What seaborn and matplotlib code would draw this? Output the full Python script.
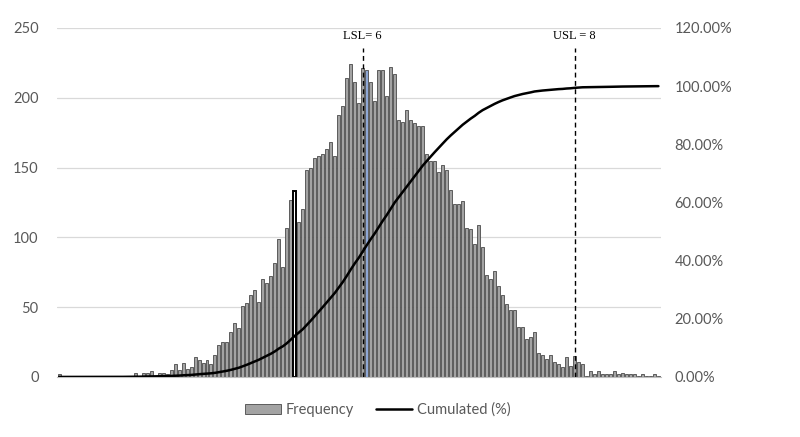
import numpy as np
import pandas as pd
import matplotlib
matplotlib.use("Agg")
import matplotlib.pyplot as plt
from matplotlib.patches import Patch
from matplotlib.lines import Line2D
import seaborn as sns

# frequencies per class (151 classes)
freq = [
    2, 0, 0, 0, 0, 0, 0, 0, 0, 0, 0, 1, 1, 0, 0, 1, 0, 1, 1, 3,
    1, 3, 3, 4, 1, 3, 3, 2, 5, 9, 5, 10, 6, 7, 14, 12, 10, 12, 9, 16,
    23, 25, 25, 32, 39, 35, 51, 53, 59, 62, 54, 70, 67, 72, 82, 99, 79, 107, 127, 133,
    111, 120, 148, 150, 157, 158, 160, 163, 168, 158, 188, 194, 214, 224, 211, 196, 221, 220, 211, 198,
    220, 220, 201, 222, 217, 184, 183, 191, 184, 182, 180, 180, 160, 155, 155, 147, 152, 148, 134, 124,
    124, 126, 107, 106, 95, 109, 93, 73, 70, 76, 65, 59, 52, 48, 48, 36, 36, 27, 29, 32,
    17, 16, 13, 16, 11, 9, 7, 14, 8, 15, 11, 9, 1, 4, 2, 4, 2, 2, 2, 4,
    2, 3, 2, 2, 2, 1, 2, 1, 1, 2, 1,
]
outlined_bin = 59   # bar drawn with black outline
blue_bin = 77       # highlighted bar
lsl_bin = 76
usl_bin = 129
lsl_label = "LSL= 6"
usl_label = "USL = 8"
left_ticks = [0, 50, 100, 150, 200, 250]
right_ticks = [0, 20, 40, 60, 80, 100, 120]

df = pd.DataFrame({"bin": np.arange(len(freq)), "freq": freq})
df["cum"] = df["freq"].cumsum() / df["freq"].sum() * 100

sns.set_style("white")
plt.rcParams["font.family"] = ["Lato", "DejaVu Sans"]
txt_col = "#595959"

fig = plt.figure(figsize=(8, 4.37), dpi=100)
ax = fig.add_axes([0.071, 0.1373, 0.755, 0.7987])

sns.barplot(data=df, x="bin", y="freq", ax=ax, color="#A3A3A3",
            saturation=1, width=0.75, edgecolor="#4A4A4A", linewidth=0.6,
            zorder=2)
for i, p in enumerate(ax.patches):
    if i == outlined_bin:
        p.set_facecolor("white")
        p.set_edgecolor("black")
        p.set_linewidth(1.4)
    elif i == blue_bin:
        p.set_facecolor("#8FA8D6")

ax.set_xlim(-0.6, len(freq) - 0.4)
ax.set_ylim(0, 250)
ax.set_yticks(left_ticks)
ax.set_xticks([])
ax.set_xlabel("")
ax.set_ylabel("")
ax.tick_params(axis="y", length=0, pad=13, labelsize=10.5, labelcolor=txt_col)
ax.grid(axis="y", color="#D9D9D9", linewidth=0.9, zorder=0)
ax.set_axisbelow(True)
for s in ["top", "left", "right"]:
    ax.spines[s].set_visible(False)
ax.spines["bottom"].set_color("#BFBFBF")

for b, lab in [(lsl_bin, lsl_label), (usl_bin, usl_label)]:
    ax.plot([b, b], [0, 236], color="black", linestyle=(0, (3.5, 2.5)),
            linewidth=1.0, zorder=4)
    ax.text(b, 244, lab, ha="center", va="center", fontsize=9,
            family=["Liberation Serif", "DejaVu Serif"], color="black")

ax2 = ax.twinx()
sns.lineplot(data=df, x="bin", y="cum", ax=ax2, color="black",
             linewidth=1.8, zorder=5)
ax2.set_ylim(0, 120)
ax2.set_yticks(right_ticks)
ax2.set_yticklabels([f"{t:.2f}%" for t in right_ticks])
ax2.set_xlim(ax.get_xlim())
ax2.set_ylabel("")
ax2.set_xlabel("")
ax2.tick_params(axis="y", length=0, pad=10, labelsize=10.5, labelcolor=txt_col)
for s in ["top", "left", "right", "bottom"]:
    ax2.spines[s].set_visible(False)

handles = [Patch(facecolor="#A3A3A3", edgecolor="#4A4A4A", linewidth=0.6),
           Line2D([0], [0], color="black", linewidth=1.8)]
fig.legend(handles, ["Frequency", "Cumulated (%)"], loc="center",
           bbox_to_anchor=(0.472, 0.062), ncol=2, frameon=False,
           fontsize=10.5, labelcolor=txt_col, handlelength=2.5,
           handleheight=0.6, columnspacing=1.5, handletextpad=0.3)

fig.savefig("out.png", dpi=100)
